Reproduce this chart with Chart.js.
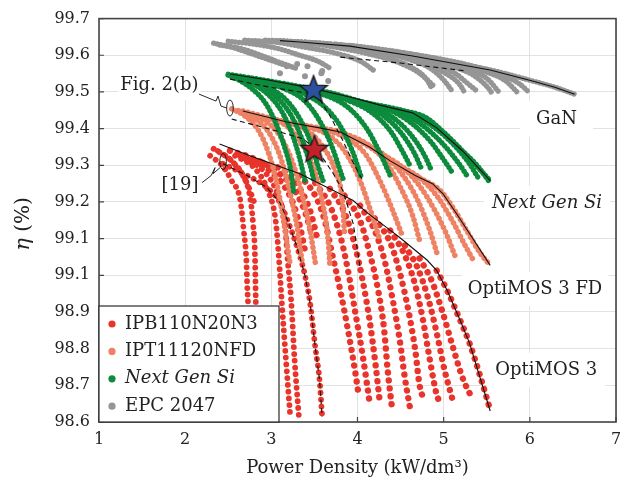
<!DOCTYPE html>
<html><head><meta charset="utf-8">
<script src="https://cdn.jsdelivr.net/npm/chart.js@4.4.1/dist/chart.umd.min.js"></script>
<style>html,body{margin:0;padding:0;background:#fff;}#c{display:block;}</style>
</head><body>
<canvas id="c" width="634" height="484" style="width:634px;height:484px"></canvas>
<script>
// ---------- data ----------
const xTickValues = [1, 2, 3, 4, 5, 6, 7];
const yTickValues = [98.6, 98.7, 98.8, 98.9, 99.0, 99.1, 99.2, 99.3, 99.4, 99.5, 99.6, 99.7];
const yTickLabels = ['98.6','98.7','98.8','98.9','99.1','99.1','99.2','99.3','99.4','99.5','99.6','99.7'];
const seriesNames = ['IPB110N20N3', 'IPT11120NFD', 'Next Gen Si', 'EPC 2047'];
const seriesColors = ['#e8342a', '#ee8264', '#0b8b3b', '#959595'];

// EPC 2047 (GaN)
const epcCurves = [
  [[2.33,99.633],[2.54,99.622],[2.75,99.606],[2.96,99.589],[3.16,99.573]],
  [[2.40,99.628],[2.65,99.618],[2.88,99.600],[3.08,99.582],[3.28,99.565]],
  [[2.50,99.638],[2.81,99.630],[3.10,99.617],[3.33,99.600],[3.54,99.584],[3.70,99.562]],
  [[2.69,99.641],[3.04,99.636],[3.39,99.622],[3.74,99.606],[4.03,99.584],[4.20,99.557]],
  [[2.93,99.641],[3.33,99.636],[3.74,99.622],[4.14,99.603],[4.49,99.579],[4.72,99.551],[4.90,99.513]],
  [[3.06,99.640],[3.50,99.632],[3.95,99.616],[4.33,99.594],[4.62,99.568],[4.80,99.535],[4.85,99.515]],
  [[3.22,99.638],[3.68,99.630],[4.14,99.614],[4.55,99.592],[4.84,99.565],[5.01,99.530],[5.10,99.502]],
  [[3.40,99.636],[3.85,99.626],[4.30,99.607],[4.68,99.585],[4.98,99.556],[5.18,99.522],[5.24,99.500]],
  [[3.56,99.633],[4.03,99.622],[4.49,99.603],[4.84,99.581],[5.13,99.551],[5.30,99.519],[5.40,99.500]],
  [[3.75,99.630],[4.22,99.617],[4.68,99.597],[5.05,99.573],[5.35,99.545],[5.52,99.510],[5.56,99.497]],
  [[3.91,99.627],[4.43,99.611],[4.90,99.589],[5.25,99.565],[5.51,99.535],[5.65,99.497]],
  [[4.15,99.618],[4.62,99.603],[5.08,99.582],[5.45,99.558],[5.72,99.530],[5.85,99.500]],
  [[4.38,99.611],[4.84,99.595],[5.30,99.573],[5.65,99.549],[5.88,99.522],[6.00,99.497]],
  [[4.64,99.598],[5.07,99.579],[5.54,99.560],[6.03,99.530],[6.29,99.513],[6.52,99.494]],
  [[3.10,99.640],[3.33,99.636],[3.91,99.625],[4.64,99.598],[5.54,99.560]]
];
const epcPoints = [[3.18,99.570],[3.30,99.576],[3.42,99.570],[3.10,99.551],[3.39,99.543],[3.58,99.551],[3.66,99.530],[3.59,99.557]];
const epcFront = [[3.10,99.640],[3.33,99.636],[3.91,99.625],[4.64,99.598],[5.54,99.560],[6.03,99.530],[6.29,99.513],[6.52,99.494]];
const epcDashed = [[3.80,99.595],[4.49,99.579],[5.27,99.557]];

// Next Gen Si
const ngsCurves = [
  [[2.50,99.548],[2.90,99.533],[3.30,99.516],[3.70,99.497],[4.10,99.470],[4.50,99.450],[4.80,99.418],[5.05,99.375],[5.30,99.318],[5.54,99.258]],
  [[2.50,99.546],[2.64,99.530],[2.78,99.508],[2.93,99.470],[3.05,99.416],[3.16,99.345],[3.23,99.280],[3.26,99.225]],
  [[2.58,99.541],[2.81,99.519],[2.98,99.489],[3.13,99.443],[3.25,99.380],[3.33,99.318],[3.39,99.258]],
  [[2.64,99.538],[2.88,99.517],[3.06,99.486],[3.22,99.440],[3.35,99.375],[3.44,99.310],[3.49,99.262]],
  [[2.69,99.535],[2.96,99.513],[3.16,99.481],[3.31,99.435],[3.45,99.367],[3.54,99.299],[3.60,99.258]],
  [[2.87,99.530],[3.16,99.508],[3.39,99.475],[3.56,99.421],[3.70,99.353],[3.80,99.285],[3.84,99.258]],
  [[3.10,99.519],[3.39,99.494],[3.62,99.459],[3.80,99.407],[3.94,99.339],[4.05,99.263]],
  [[3.33,99.508],[3.68,99.486],[3.91,99.454],[4.11,99.399],[4.26,99.334],[4.38,99.272]],
  [[3.56,99.497],[3.91,99.475],[4.17,99.443],[4.38,99.394],[4.52,99.339],[4.61,99.299]],
  [[3.70,99.492],[4.03,99.470],[4.29,99.437],[4.50,99.390],[4.66,99.333],[4.74,99.292]],
  [[3.80,99.486],[4.14,99.464],[4.40,99.432],[4.61,99.386],[4.78,99.326],[4.86,99.285]],
  [[3.97,99.478],[4.32,99.456],[4.61,99.418],[4.84,99.367],[5.01,99.312],[5.10,99.280]],
  [[4.14,99.467],[4.49,99.448],[4.75,99.410],[4.98,99.361],[5.17,99.307],[5.27,99.272]],
  [[4.32,99.459],[4.64,99.440],[4.90,99.402],[5.13,99.353],[5.30,99.304],[5.40,99.266]],
  [[4.49,99.451],[4.78,99.432],[5.01,99.388],[5.22,99.339],[5.39,99.299],[5.54,99.252]]
];
const ngsFront = [[2.52,99.549],[2.98,99.532],[3.45,99.511],[3.91,99.486],[4.26,99.464],[4.64,99.443],[4.92,99.402],[5.22,99.339],[5.54,99.258]];
const ngsDashed = [[2.52,99.535],[2.98,99.513],[3.41,99.497],[3.54,99.489],[3.68,99.435],[3.82,99.372],[3.94,99.312],[4.05,99.263]];

// IPT11120NFD (OptiMOS 3 FD)
const iptCurves = [
  [[2.54,99.454],[2.69,99.435],[2.84,99.399],[2.96,99.339],[3.07,99.244],[3.15,99.136],[3.22,99.027]],
  [[2.62,99.449],[2.80,99.428],[2.97,99.390],[3.10,99.326],[3.21,99.232],[3.30,99.130],[3.36,99.032]],
  [[2.69,99.443],[2.93,99.421],[3.10,99.380],[3.24,99.312],[3.36,99.217],[3.45,99.122],[3.51,99.035]],
  [[2.87,99.432],[3.16,99.410],[3.33,99.367],[3.48,99.299],[3.59,99.204],[3.66,99.095],[3.68,99.027]],
  [[3.10,99.421],[3.39,99.399],[3.59,99.353],[3.74,99.285],[3.83,99.190],[3.85,99.108]],
  [[3.33,99.407],[3.62,99.388],[3.85,99.339],[4.03,99.258],[4.17,99.163],[4.26,99.095]],
  [[3.56,99.399],[3.85,99.377],[4.09,99.331],[4.26,99.258],[4.41,99.176],[4.52,99.108]],
  [[3.80,99.391],[4.09,99.361],[4.32,99.312],[4.49,99.244],[4.64,99.163],[4.72,99.095]],
  [[4.03,99.367],[4.32,99.326],[4.53,99.272],[4.70,99.204],[4.84,99.122],[4.92,99.062]],
  [[4.26,99.334],[4.53,99.293],[4.72,99.244],[4.90,99.176],[5.04,99.108],[5.13,99.054]],
  [[4.49,99.299],[4.72,99.266],[4.92,99.217],[5.10,99.149],[5.25,99.081],[5.36,99.035]],
  [[4.72,99.266],[4.96,99.231],[5.13,99.176],[5.28,99.117],[5.42,99.062],[5.54,99.027]],
  [[2.67,99.448],[3.18,99.418],[3.56,99.402],[3.80,99.391],[4.14,99.350],[4.38,99.312],[4.67,99.272]]
];
const iptFront = [[2.67,99.448],[3.18,99.418],[3.56,99.402],[3.80,99.391],[4.14,99.350],[4.38,99.312],[4.67,99.272],[4.87,99.250],[4.99,99.223],[5.15,99.168],[5.30,99.114],[5.54,99.027]];
const iptDashed = [[2.54,99.426],[2.98,99.399],[3.37,99.372],[3.51,99.345],[3.62,99.312],[3.72,99.277],[3.83,99.231],[3.95,99.141],[4.03,99.022]];

// IPB110N20N3 (OptiMOS 3)
const ipbCircleCurves = [
  [[2.29,99.326],[2.43,99.299],[2.54,99.258],[2.64,99.204],[2.68,99.122],[2.71,99.041],[2.72,98.973],[2.73,98.924]],
  [[2.38,99.339],[2.54,99.312],[2.67,99.272],[2.75,99.217],[2.79,99.136],[2.81,99.054],[2.82,98.924]],
  [[2.33,99.345],[2.50,99.320],[2.62,99.290],[2.72,99.250],[2.80,99.200]],
  [[2.58,99.326],[2.81,99.291],[2.96,99.231],[3.05,99.149],[3.09,99.041],[3.12,98.932],[3.17,98.769],[3.22,98.614]],
  [[2.69,99.318],[2.93,99.280],[3.08,99.217],[3.16,99.136],[3.19,99.041],[3.23,98.932],[3.27,98.769],[3.32,98.614]]
];
const ipbDashed = [[2.44,99.304],[2.72,99.272],[2.95,99.239],[3.10,99.198],[3.19,99.149],[3.30,99.076],[3.39,99.000],[3.45,98.924],[3.51,98.804],[3.56,98.714],[3.59,98.614]];
const ipbDiamondCurves = [
  [[2.52,99.340],[2.80,99.318],[3.05,99.285],[3.25,99.240],[3.38,99.180],[3.46,99.120]],
  [[2.64,99.326],[2.89,99.299],[3.10,99.258],[3.24,99.204],[3.33,99.136],[3.39,99.068]],
  [[2.81,99.312],[3.10,99.291],[3.31,99.244],[3.45,99.176],[3.54,99.095]],
  [[3.33,99.272],[3.51,99.217],[3.62,99.149],[3.71,99.054],[3.80,98.959],[3.89,98.850],[3.97,98.742],[4.01,98.679]],
  [[3.51,99.252],[3.68,99.190],[3.80,99.108],[3.89,99.013],[3.97,98.905],[4.06,98.782],[4.14,98.655]],
  [[3.68,99.236],[3.85,99.171],[3.97,99.081],[4.06,98.986],[4.14,98.878],[4.21,98.755],[4.26,98.652]],
  [[3.85,99.217],[4.03,99.149],[4.14,99.062],[4.24,98.959],[4.31,98.850],[4.35,98.742],[4.40,98.638]],
  [[4.03,99.190],[4.20,99.122],[4.32,99.035],[4.41,98.932],[4.49,98.823],[4.55,98.720],[4.61,98.638]],
  [[4.20,99.155],[4.38,99.089],[4.49,99.008],[4.59,98.905],[4.67,98.796],[4.72,98.701],[4.78,98.655]],
  [[4.38,99.122],[4.55,99.054],[4.67,98.973],[4.76,98.878],[4.84,98.769],[4.92,98.674],[4.96,98.652]],
  [[4.55,99.081],[4.70,99.019],[4.82,98.937],[4.92,98.842],[5.01,98.742],[5.11,98.655]],
  [[4.72,99.046],[4.86,98.986],[4.98,98.905],[5.10,98.810],[5.22,98.720],[5.34,98.660]],
  [[4.92,99.013],[5.04,98.959],[5.19,98.878],[5.30,98.815],[5.42,98.728],[5.54,98.633]]
];
const ipbFront = [[2.40,99.358],[2.75,99.326],[3.33,99.277],[3.72,99.231],[3.95,99.204],[4.11,99.171],[4.34,99.130],[4.49,99.103],[4.81,99.041],[4.92,99.013],[5.04,98.959],[5.19,98.878],[5.30,98.815],[5.54,98.630]];

const starBlue = [[3.49, 99.508]];
const starRed = [[3.50, 99.345]];

// text annotations (data coordinates)
const regionLabels = [
  {text: 'GaN', x: 6.31, y: 99.426, italic: false, padX: 16, padY: 9},
  {text: 'Next Gen Si', x: 6.20, y: 99.195, italic: true, padX: 8, padY: 9},
  {text: 'OptiMOS 3 FD', x: 6.06, y: 98.962, italic: false, padX: 6, padY: 8},
  {text: 'OptiMOS 3', x: 6.19, y: 98.742, italic: false, padX: 8, padY: 8},
  {text: 'Fig. 2(b)', x: 1.70, y: 99.519, italic: false, padX: 2, padY: 6},
  {text: '[19]', x: 1.94, y: 99.244, italic: false, padX: 4, padY: 6}
];
const callouts = [
  {x: 2.52, y: 99.456, path: [[-31,-14],[-14,-7],[-12,-12],[-9,-2],[-3,0]]},
  {x: 2.44, y: 99.310, path: [[-21,21],[-12,14],[-8,6],[-10,12],[-3,6]]}
];

// ---------- chart ----------
const FONT = 'DejaVu Serif';
const toXY = a => a.map(p => ({x: p[0], y: p[1]}));
function dotted(curve, color, w, gap, order) {
  return {data: toXY(curve), showLine: true, borderColor: color, backgroundColor: color,
    borderWidth: w, borderDash: [0.01, gap], borderCapStyle: 'round', pointRadius: 0,
    pointHoverRadius: 0, cubicInterpolationMode: 'monotone', order};
}
function blackLine(curve, dashed) {
  return {data: toXY(curve), showLine: true, borderColor: '#111', borderWidth: 1.1,
    borderDash: dashed ? [5, 3.5] : [], pointRadius: 0, pointHoverRadius: 0, tension: 0, order: 1};
}
function makeStar(fill) {
  const c = document.createElement('canvas'); c.width = 34; c.height = 34;
  const g = c.getContext('2d');
  const R = 14.5, r = 6.1, cx = 17, cy = 18;
  g.beginPath();
  for (let i = 0; i < 10; i++) {
    const a = -Math.PI / 2 + i * Math.PI / 5, rad = i % 2 ? r : R;
    g.lineTo(cx + rad * Math.cos(a), cy + rad * Math.sin(a));
  }
  g.closePath(); g.fillStyle = fill; g.fill();
  g.lineWidth = 1.3; g.strokeStyle = '#151515'; g.stroke();
  return c;
}

const datasets = [];
datasets.push({data: toXY(starBlue), pointStyle: makeStar('#2c4f9e'), pointRadius: 13, order: 0, showLine: false});
datasets.push({data: toXY(starRed), pointStyle: makeStar('#c2202b'), pointRadius: 13, order: 0, showLine: false});
[epcFront, ngsFront, iptFront, ipbFront].forEach(c => datasets.push(blackLine(c, false)));
[epcDashed, ngsDashed, iptDashed, ipbDashed].forEach(c => datasets.push(blackLine(c, true)));
epcCurves.forEach(c => datasets.push(dotted(c, seriesColors[3], 5.4, 3.6, 2)));
datasets.push({data: toXY(epcPoints), showLine: false, pointRadius: 3, pointBorderWidth: 0,
  backgroundColor: seriesColors[3], pointHoverRadius: 0, order: 2});
ngsCurves.forEach(c => datasets.push(dotted(c, seriesColors[2], 5.4, 4, 3)));
iptCurves.forEach(c => datasets.push(dotted(c, seriesColors[1], 5.6, 5, 4)));
ipbCircleCurves.forEach(c => datasets.push(dotted(c, seriesColors[0], 5.8, 6.8, 5)));
datasets.push(dotted(ipbDashed, seriesColors[0], 5.8, 6.8, 5));
ipbDiamondCurves.forEach(c => datasets.push(dotted(c, seriesColors[0], 6.4, 8, 5)));

const decor = {
  id: 'decor',
  beforeDatasetsDraw(chart) {
    const {ctx, scales: {x, y}} = chart;
    ctx.save();
    regionLabels.forEach(l => {
      ctx.font = (l.italic ? 'italic ' : '') + '18px ' + FONT;
      const w = ctx.measureText(l.text).width;
      const px = x.getPixelForValue(l.x), py = y.getPixelForValue(l.y);
      ctx.fillStyle = '#fff';
      ctx.fillRect(px - w / 2 - l.padX, py - 9 - l.padY, w + 2 * l.padX, 18 + 2 * l.padY);
      ctx.fillStyle = '#222'; ctx.textAlign = 'center'; ctx.textBaseline = 'middle';
      ctx.fillText(l.text, px, py);
    });
    ctx.restore();
  },
  afterDatasetsDraw(chart) {
    const {ctx, chartArea: a, scales: {x, y}} = chart;
    ctx.save();
    ctx.strokeStyle = '#111'; ctx.lineWidth = 0.9;
    callouts.forEach(c => {
      const px = x.getPixelForValue(c.x), py = y.getPixelForValue(c.y);
      ctx.beginPath();
      c.path.forEach((p, i) => i ? ctx.lineTo(px + p[0], py + p[1]) : ctx.moveTo(px + p[0], py + p[1]));
      ctx.stroke();
      ctx.beginPath(); ctx.ellipse(px, py, 3.3, 8, 0, 0, Math.PI * 2); ctx.stroke();
    });
    ctx.strokeStyle = '#454545'; ctx.lineWidth = 1.6;
    ctx.strokeRect(a.left, a.top, a.right - a.left, a.bottom - a.top);
    ctx.lineWidth = 1.2; ctx.beginPath();
    xTickValues.forEach(v => { const p = x.getPixelForValue(v); ctx.moveTo(p, a.bottom); ctx.lineTo(p, a.bottom - 5); });
    yTickValues.forEach(v => { const p = y.getPixelForValue(v); ctx.moveTo(a.left, p); ctx.lineTo(a.left + 5, p); });
    ctx.stroke();
    const lw = 180, lh = 116, lx = a.left, ly = a.bottom - lh;
    ctx.fillStyle = '#fff'; ctx.fillRect(lx, ly, lw, lh);
    ctx.strokeStyle = '#2a2a2a'; ctx.lineWidth = 1.2; ctx.strokeRect(lx, ly, lw, lh);
    seriesNames.forEach((n, i) => {
      const cy = ly + 18 + i * 27.4;
      ctx.fillStyle = seriesColors[i];
      ctx.beginPath(); ctx.arc(lx + 13, cy, 3.6, 0, Math.PI * 2); ctx.fill();
      ctx.fillStyle = '#222'; ctx.font = (i === 2 ? 'italic ' : '') + '18px ' + FONT;
      ctx.textAlign = 'left'; ctx.textBaseline = 'middle';
      ctx.fillText(n, lx + 26, cy);
    });
    ctx.fillStyle = '#222'; ctx.textBaseline = 'middle'; ctx.textAlign = 'center';
    ctx.font = '18px ' + FONT;
    ctx.fillText('Power Density (kW/dm\u00B3)', (a.left + a.right) / 2, 468);
    ctx.translate(24, 224); ctx.rotate(-Math.PI / 2);
    ctx.font = 'italic 21px ' + FONT; const w1 = ctx.measureText('\u03B7').width;
    ctx.font = '20px ' + FONT; const w2 = ctx.measureText(' (%)').width;
    ctx.textAlign = 'left';
    ctx.font = 'italic 21px ' + FONT; ctx.fillText('\u03B7', -(w1 + w2) / 2, 0);
    ctx.font = '20px ' + FONT; ctx.fillText(' (%)', -(w1 + w2) / 2 + w1, 0);
    ctx.restore();
  }
};

new Chart(document.getElementById('c'), {
  type: 'scatter',
  data: {datasets},
  options: {
    responsive: false, animation: false, events: [],
    layout: {padding: {left: 0, top: 17, right: 18, bottom: 0}},
    plugins: {legend: {display: false}, tooltip: {enabled: false}},
    scales: {
      x: {type: 'linear', min: 1, max: 7,
        afterBuildTicks: s => { s.ticks = xTickValues.map(v => ({value: v})); },
        afterFit: s => { s.height = 62; },
        ticks: {font: {family: FONT, size: 16}, color: '#222', padding: 8, maxRotation: 0},
        grid: {color: '#e2e2e2', lineWidth: 1, drawTicks: false}, border: {display: false}},
      y: {type: 'linear', min: 98.6, max: 99.7,
        afterBuildTicks: s => { s.ticks = yTickValues.map(v => ({value: v})); },
        afterFit: s => { s.width = 99; },
        ticks: {font: {family: FONT, size: 16}, color: '#222', padding: 9,
          callback: (v, i) => yTickLabels[i]},
        grid: {color: '#e2e2e2', lineWidth: 1, drawTicks: false}, border: {display: false}}
    }
  },
  plugins: [decor]
});
</script>
</body></html>
